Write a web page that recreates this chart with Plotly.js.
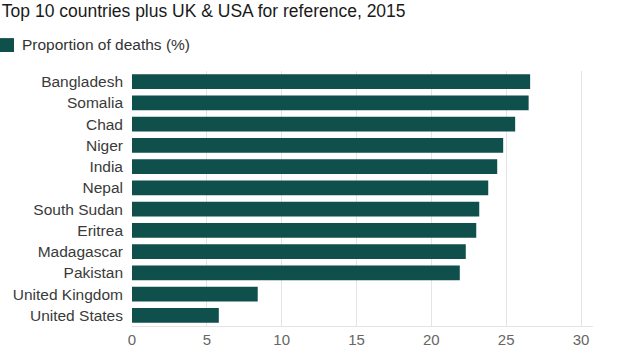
<!DOCTYPE html>
<html>
<head>
<meta charset="utf-8">
<script src="https://cdn.plot.ly/plotly-3.0.1.min.js"></script>
<style>html,body{margin:0;padding:0;background:#fff;}#chart{width:624px;height:351px;}</style>
</head>
<body>
<div id="chart"></div>
<script>
const countries = ["Bangladesh","Somalia","Chad","Niger","India","Nepal","South Sudan","Eritrea","Madagascar","Pakistan","United Kingdom","United States"];
const deaths = [26.6, 26.5, 25.6, 24.8, 24.4, 23.8, 23.2, 23.0, 22.3, 21.9, 8.4, 5.8];
const xTicks = [0, 5, 10, 15, 20, 25, 30];
const seriesName = "Proportion of deaths (%)";
const titleText = "Top 10 countries plus UK & USA for reference, 2015";
const barColor = "#0f4f4c";

const font = "Liberation Sans, Arial, sans-serif";

const trace = {
  type: "bar",
  orientation: "h",
  x: deaths,
  y: countries,
  name: seriesName,
  marker: {color: barColor},
  hoverinfo: "x+y"
};

const layout = {
  width: 624, height: 351,
  margin: {l: 132, r: 31, t: 71, b: 25, pad: 0},
  paper_bgcolor: "#fff", plot_bgcolor: "#fff",
  showlegend: false,
  bargap: 0.3,
  font: {family: font, color: "#444"},
  title: {text: titleText, x: 0.003, xanchor: "left", xref: "container", y: 0.968, yanchor: "middle", yref: "container",
          font: {family: font, size: 17.5, color: "#1a1a1a"}},
  xaxis: {
    range: [0, 30.8], tickvals: xTicks, ticktext: xTicks.map(String),
    showgrid: true, gridcolor: "#e4e4e4", gridwidth: 1,
    zeroline: false, showline: true, linecolor: "#e4e4e4", linewidth: 1,
    ticks: "", tickfont: {family: font, size: 15, color: "#666"}, fixedrange: true
  },
  yaxis: {
    autorange: "reversed", showgrid: false, zeroline: false, showline: false,
    ticks: "", ticklabelstandoff: 8, tickfont: {family: font, size: 15.5, color: "#3a3a3a"}, fixedrange: true
  },
  shapes: [{type: "rect", xref: "paper", yref: "paper", x0: -0.2863, x1: -0.2559, y0: 1.0745, y1: 1.129, fillcolor: barColor, line: {width: 0}}],
  annotations: [{text: seriesName, xref: "paper", yref: "paper", x: -0.243, xanchor: "left", y: 1.102, yanchor: "middle",
                 showarrow: false, font: {family: font, size: 15.5, color: "#333"}}]
};

Plotly.newPlot("chart", [trace], layout, {displayModeBar: false, staticPlot: true});
</script>
</body>
</html>
